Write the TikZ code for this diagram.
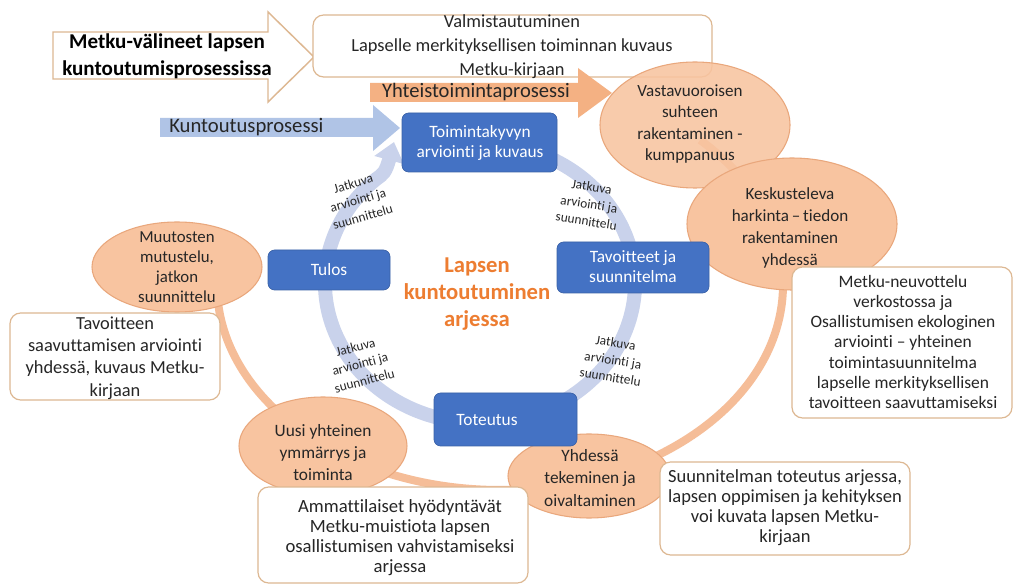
\documentclass[tikz,border=0pt]{standalone}
\usepackage{fontspec}
\setmainfont{Carlito}[RawFeature={-liga}]
\usetikzlibrary{arrows.meta,calc,bending}
\definecolor{bluebox}{HTML}{4472C4}
\definecolor{ringblue}{HTML}{C9D2EB}
\definecolor{kuntblue}{HTML}{B0C4E6}
\definecolor{orarrow}{HTML}{F4B183}
\definecolor{ellfill}{HTML}{F8C4A0}
\definecolor{elldraw}{HTML}{E9A77C}
\definecolor{orring}{HTML}{F5BD98}
\definecolor{ortext}{HTML}{ED7D31}
\definecolor{tanline}{HTML}{DDB892}
\definecolor{txt}{HTML}{262626}
\begin{document}
\begin{tikzpicture}[x=0.75pt,y=-0.75pt,
  bbox/.style={draw=bluebox!85!black, line width=0.5pt, fill=bluebox, rounded corners=5pt},
  btext/.style={text=white, font=\fontsize{13}{15}\selectfont, align=center, inner sep=0pt},
  wbox/.style={draw=tanline, line width=0.9pt, fill=white, rounded corners=8pt},
  wtext/.style={text=txt, align=center, inner sep=0pt},
  ell/.style={draw=elldraw, line width=0.8pt, fill=ellfill},
  etext/.style={text=txt, align=center, inner sep=0pt, font=\fontsize{12.8}{16}\selectfont},
  jtext/.style={text=txt, align=center, inner sep=0pt, font=\fontsize{10}{13}\selectfont},
]
\useasboundingbox (0,0) rectangle (1014,584);
\fill[white] (0,0) rectangle (1014,584);

% orange ring
\draw[orring, line width=6pt] ($(500,285)+(-45:283 and 205)$) arc[start angle=-45, end angle=178, x radius=283, y radius=205];
% blue ring
\coordinate (ringtip) at (394,142);
\draw[ringblue, line width=10.5pt, -{Triangle[width=22pt,length=14pt]}] ($(480,283)+(-75:155 and 140)$) arc[start angle=-75, end angle=228, x radius=155, y radius=140] .. controls (386,172) .. (ringtip);

% big outline arrow
\draw[draw=tanline, line width=1.1pt, fill=white] (53,32) -- (268,32) -- (268,12) -- (314,57) -- (268,102) -- (268,79) -- (53,79) -- cycle;
\node[wtext, font=\bfseries\fontsize{15.8}{20}\selectfont, text=black] (metku) at (167,56) {Metku-välineet lapsen\\kuntoutumisprosessissa};

% top box
\draw[wbox] (313,15) rectangle (712,77);
\node[wtext, font=\fontsize{13.8}{18}\selectfont] (valm) at (512,47) {Valmistautuminen\\Lapselle merkityksellisen toiminnan kuvaus\\Metku-kirjaan};

% orange arrow
\fill[orarrow] (370,83) -- (578,83) -- (578,68) -- (612,93) -- (578,118) -- (578,102) -- (370,102) -- cycle;
\node[wtext, font=\fontsize{15.4}{18}\selectfont] (yht) at (476,92) {Yhteistoimintaprosessi};

% blue arrow
\fill[kuntblue] (160,118) -- (373,118) -- (373,105) -- (400,128) -- (373,151) -- (373,137) -- (160,137) -- cycle;
\node[wtext, anchor=west, font=\fontsize{15.5}{18}\selectfont] (kunt) at (169,127) {Kuntoutusprosessi};

% ellipses
\draw[ell, fill opacity=0.88] (695,125) ellipse[x radius=95, y radius=63];
\draw[ell] (792,224) ellipse[x radius=105, y radius=66];
\draw[ell] (177,267) ellipse[x radius=85, y radius=45];
\draw[ell] (323,446) ellipse[x radius=84, y radius=49];
\draw[ell] (589,476) ellipse[x radius=81, y radius=42];

\node[etext] (vast) at (690,124) {Vastavuoroisen\\suhteen\\rakentaminen -\\kumppanuus};
\node[etext, font=\fontsize{12.8}{16.5}\selectfont] (kesk) at (790,228) {Keskusteleva\\harkinta\,–\,tiedon\\rakentaminen\\yhdessä};
\node[etext, font=\fontsize{12.6}{15}\selectfont] (muut) at (177,267) {Muutosten\\mutustelu,\\jatkon\\suunnittelu};
\node[etext, font=\fontsize{13}{16.5}\selectfont] (uusi) at (323,453) {Uusi yhteinen\\ymmärrys ja\\toiminta};
\node[etext, font=\fontsize{13}{17}\selectfont] (yhd) at (590,478) {Yhdessä\\tekeminen ja\\oivaltaminen};

% white boxes
\draw[wbox] (792,267) rectangle (1012,418);
\node[wtext, font=\fontsize{13.1}{15.2}\selectfont] (neuv) at (903,342) {Metku-neuvottelu\\verkostossa ja\\Osallistumisen ekologinen\\arviointi – yhteinen\\toimintasuunnitelma\\lapselle merkityksellisen\\tavoitteen saavuttamiseksi};
\draw[wbox] (10,313) rectangle (220,400);
\node[wtext, font=\fontsize{13.8}{16.7}\selectfont] (tav) at (115,358) {Tavoitteen\\saavuttamisen arviointi\\yhdessä, kuvaus Metku-\\kirjaan};
\draw[wbox] (258,487) rectangle (528,583);
\node[wtext, font=\fontsize{14}{15}\selectfont] (amm) at (400,538) {Ammattilaiset hyödyntävät\\Metku-muistiota lapsen\\osallistumisen vahvistamiseksi\\arjessa};
\draw[wbox] (660,462) rectangle (910,555);
\node[wtext, font=\fontsize{13.9}{15}\selectfont] (suun) at (785,508) {Suunnitelman toteutus arjessa,\\lapsen oppimisen ja kehityksen\\voi kuvata lapsen Metku-\\kirjaan};

% blue boxes
\draw[bbox] (402,113) rectangle (557,172);
\node[btext] (toim) at (480,143) {Toimintakyvyn\\arviointi ja kuvaus};
\draw[bbox] (557,242) rectangle (709,293);
\node[btext] (tavs) at (633,267) {Tavoitteet ja\\suunnitelma};
\draw[bbox] (268,250) rectangle (390,290);
\node[btext] (tulos) at (329,270) {Tulos};
\draw[bbox] (434,393) rectangle (577,446);
\node[btext] (tot) at (487,420) {Toteutus};

% center text
\node[inner sep=0pt, align=center, text=ortext, font=\bfseries\fontsize{17}{20.3}\selectfont] (center) at (477,294) {Lapsen\\kuntoutuminen\\arjessa};

% Jatkuva labels
\node[jtext, rotate=16] (j1) at (358,200) {Jatkuva\\arviointi ja\\suunnittelu};
\node[jtext, rotate=-9] (j2) at (589,204) {Jatkuva\\arviointi ja\\suunnittelu};
\node[jtext, rotate=15] (j3) at (360,364) {Jatkuva\\arviointi ja\\suunnittelu};
\node[jtext, rotate=-9] (j4) at (613,360) {Jatkuva\\arviointi ja\\suunnittelu};
\end{tikzpicture}
\end{document}
